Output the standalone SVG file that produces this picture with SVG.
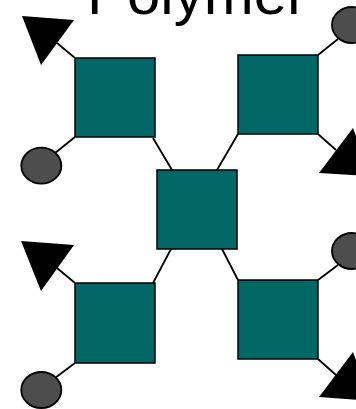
<svg xmlns="http://www.w3.org/2000/svg" width="356" height="409" viewBox="0 0 356 409">
<style>
.sq{fill:#006666;stroke:#000;stroke-width:1.5}
.ci{fill:#4d4d4d;stroke:#000;stroke-width:1.8}
.tr{fill:#000;stroke:none}
.ln{stroke:#000;stroke-width:1.8;fill:none}
.t{font-family:"Liberation Sans",Arial,sans-serif;font-size:60px;fill:#000}
</style>
<rect width="356" height="409" fill="#fff"/>
<text class="t" x="197" y="14" text-anchor="middle">Polymer</text>
<g id="connectors">
<line class="ln" x1="75" y1="58" x2="57" y2="43"/>
<line class="ln" x1="75" y1="137" x2="55" y2="153"/>
<line class="ln" x1="318" y1="55" x2="338" y2="39"/>
<line class="ln" x1="318" y1="134" x2="336" y2="150"/>
<line class="ln" x1="75" y1="283" x2="57" y2="268"/>
<line class="ln" x1="75" y1="363" x2="55" y2="378"/>
<line class="ln" x1="318" y1="280" x2="338" y2="265"/>
<line class="ln" x1="318" y1="359" x2="336" y2="375"/>
<line class="ln" x1="153" y1="138" x2="172" y2="170"/>
<line class="ln" x1="217" y1="170" x2="238" y2="134"/>
<line class="ln" x1="171" y1="249" x2="153" y2="283"/>
<line class="ln" x1="222" y1="249" x2="238" y2="280"/>
</g>
<g id="arrow-tl"><polygon class="tr" points="22,16 74,20 41,65"/></g>
<g id="arrow-tr"><polygon class="tr" points="371,176 319,173 353,128"/></g>
<g id="arrow-bl"><polygon class="tr" points="21,241 74,245 41,291"/></g>
<g id="arrow-br"><polygon class="tr" points="371,401 319,397 353,352"/></g>
<g id="ball-tl"><ellipse class="ci" cx="41.3" cy="165.7" rx="20" ry="18"/></g>
<g id="ball-bl"><ellipse class="ci" cx="41.3" cy="390" rx="20" ry="18"/></g>
<g id="ball-tr"><ellipse class="ci" cx="352" cy="25" rx="20" ry="18"/></g>
<g id="ball-br"><ellipse class="ci" cx="352" cy="251" rx="20" ry="18"/></g>
<g id="node-tl"><rect class="sq" x="75" y="58" width="80" height="79"/></g>
<g id="node-tr"><rect class="sq" x="238" y="55" width="80" height="79"/></g>
<g id="node-c"><rect class="sq" x="157" y="170" width="80" height="79"/></g>
<g id="node-bl"><rect class="sq" x="75" y="283" width="80" height="80"/></g>
<g id="node-br"><rect class="sq" x="238" y="280" width="80" height="79"/></g>
</svg>
